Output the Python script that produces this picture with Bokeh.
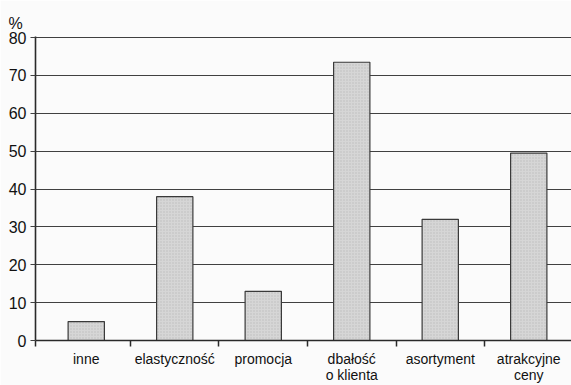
from bokeh.plotting import figure
from bokeh.models import FixedTicker, ColumnDataSource, Range1d
from bokeh.embed import file_html
from bokeh.resources import INLINE

# Survey answers (% of respondents)
categories = ["inne", "elastyczność", "promocja", "dbałość\no klienta", "asortyment", "atrakcyjne\nceny"]
values = [5, 38, 13, 73.5, 32, 49.5]
y_ticks = [0, 10, 20, 30, 40, 50, 60, 70, 80]

centers = [i + 0.5 for i in range(len(categories))]
boundaries = [-0.072] + [float(i) for i in range(1, len(categories))]

src = ColumnDataSource(dict(x=centers, top=values))

FONT = "Liberation Sans"
INK = "#111111"

p = figure(width=571, height=385, output_backend="svg", toolbar_location=None,
           x_range=Range1d(-0.0734, 5.983), y_range=Range1d(0, 80.3),
           title="%",
           min_border_left=35, min_border_right=0, min_border_top=36, min_border_bottom=43,
           background_fill_color="#fbfbfb", border_fill_color="#fbfbfb",
           outline_line_color=None)

p.title.text_font = FONT
p.title.text_font_size = "16px"
p.title.text_font_style = "normal"
p.title.text_color = INK
p.title.align = "left"
p.title.offset = -27
p.title.standoff = 10

p.vbar(x="x", top="top", width=0.41, bottom=0, source=src,
       fill_color="#d6d6d6", line_color="#3a3a3a", line_width=1.2,
       hatch_pattern="dot", hatch_color="#a8a8a8", hatch_scale=3, hatch_alpha=0.6)

# horizontal grid
p.xgrid.grid_line_color = None
p.ygrid.ticker = FixedTicker(ticks=y_ticks)
p.ygrid.grid_line_color = "#404040"
p.ygrid.grid_line_width = 1.2

# y axis
p.yaxis.ticker = FixedTicker(ticks=y_ticks)
p.yaxis.axis_line_color = "#2a2a2a"
p.yaxis.axis_line_width = 1.6
p.yaxis.major_tick_line_color = "#404040"
p.yaxis.major_tick_line_width = 1.2
p.yaxis.major_tick_out = 5
p.yaxis.major_tick_in = 0
p.yaxis.minor_tick_line_color = None
p.yaxis.major_label_standoff = 4
p.yaxis.major_label_text_font = FONT
p.yaxis.major_label_text_font_size = "16px"
p.yaxis.major_label_text_color = INK

# x axis: labels at bar centres, separator ticks between categories
p.xaxis.ticker = FixedTicker(ticks=centers, minor_ticks=boundaries)
p.xaxis.major_label_overrides = {c: lab for c, lab in zip(centers, categories)}
p.xaxis.axis_line_color = "#2a2a2a"
p.xaxis.axis_line_width = 1.6
p.xaxis.major_tick_line_color = None
p.xaxis.major_tick_out = 0
p.xaxis.major_tick_in = 0
p.xaxis.minor_tick_line_color = "#2a2a2a"
p.xaxis.minor_tick_line_width = 1.5
p.xaxis.minor_tick_out = 6
p.xaxis.minor_tick_in = 0
p.xaxis.major_label_standoff = 4
p.xaxis.major_label_text_font = FONT
p.xaxis.major_label_text_font_size = "14px"
p.xaxis.major_label_text_color = INK
p.xaxis.major_label_text_line_height = 1.0

open("out.html", "w").write(file_html(p, INLINE))
